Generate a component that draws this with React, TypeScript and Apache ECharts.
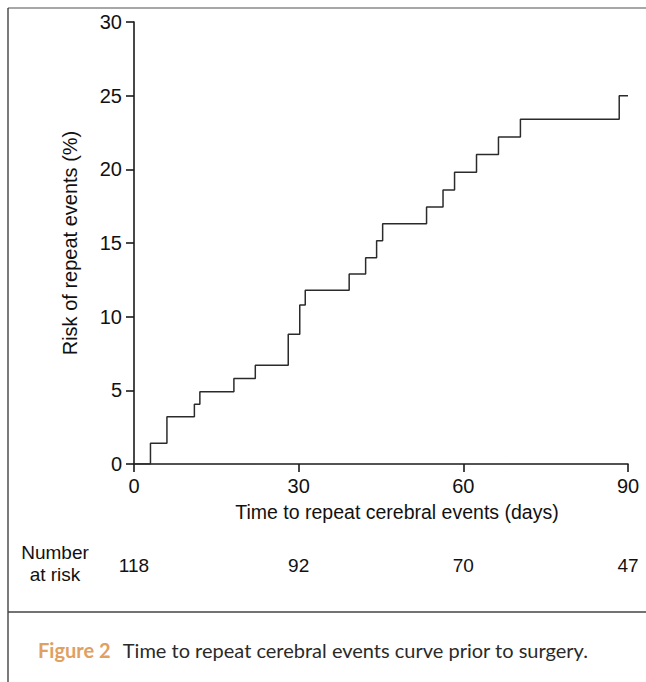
import React, { useEffect, useRef } from "react";
import * as echarts from "echarts";

const stepDays = [0, 3, 6, 11, 12, 18.2, 22.1, 28.1, 30.2, 31.2, 39.2, 42.2, 44.2, 45.3, 53.3, 56.3, 58.4, 62.4, 66.4, 70.4, 88.4, 90];
const stepRisk = [0, 1.4, 3.2, 4.05, 4.9, 5.8, 6.7, 8.8, 10.8, 11.8, 12.9, 14.0, 15.15, 16.3, 17.45, 18.6, 19.8, 21.0, 22.2, 23.4, 25.0, 25.0];
const riskTicks = [0, 30, 60, 90];
const numberAtRisk = [118, 92, 70, 47];

const xName = "Time to repeat cerebral events (days)";
const yName = "Risk of repeat events (%)";
const captionLabel = "Figure 2";
const captionText = "Time to repeat cerebral events curve prior to surgery.";

const FONT = "'Liberation Sans', Arial, sans-serif";

export default function App() {
  const ref = useRef<HTMLDivElement>(null);
  useEffect(() => {
    if (!ref.current) return;
    const chart = echarts.init(ref.current, null, { renderer: "svg" });
    const data = stepDays.map((d, i) => [d, stepRisk[i]]);
    const axisColor = "#1a1a1a";
    chart.setOption({
      animation: false,
      backgroundColor: "#ffffff",
      grid: { left: 134, right: 18, top: 22, bottom: 218, containLabel: false },
      xAxis: [
        {
          type: "value",
          min: 0,
          max: 90,
          interval: 30,
          name: xName,
          nameLocation: "middle",
          nameGap: 38,
          nameTextStyle: { fontFamily: FONT, fontSize: 19.5, color: "#111", padding: [0, 0, 0, 32] },
          axisLine: { show: true, lineStyle: { color: axisColor, width: 1.6 } },
          axisTick: { show: true, length: 8, lineStyle: { color: axisColor, width: 1.6 } },
          axisLabel: { fontFamily: FONT, fontSize: 20, color: "#111", margin: 12 },
          splitLine: { show: false },
        },
        {
          type: "value",
          min: 0,
          max: 90,
          interval: 30,
          position: "bottom",
          offset: 84,
          axisLine: { show: false },
          axisTick: { show: false },
          splitLine: { show: false },
          axisLabel: {
            fontFamily: FONT,
            fontSize: 19,
            color: "#111",
            margin: 8,
            formatter: (v: number) => {
              const i = riskTicks.indexOf(v);
              return i >= 0 ? String(numberAtRisk[i]) : "";
            },
          },
        },
      ],
      yAxis: {
        type: "value",
        min: 0,
        max: 30,
        interval: 5,
        name: yName,
        nameLocation: "middle",
        nameGap: 54,
        nameTextStyle: { fontFamily: FONT, fontSize: 20, color: "#111" },
        axisLine: { show: true, lineStyle: { color: axisColor, width: 1.6 } },
        axisTick: { show: true, length: 8, lineStyle: { color: axisColor, width: 1.6 } },
        axisLabel: { fontFamily: FONT, fontSize: 20, color: "#111", margin: 12 },
        splitLine: { show: false },
      },
      series: [
        {
          type: "line",
          step: "end",
          data,
          showSymbol: false,
          symbol: "none",
          lineStyle: { color: "#2b2b2b", width: 1.5 },
          xAxisIndex: 0,
          yAxisIndex: 0,
        },
      ],
      graphic: [
        { type: "line", shape: { x1: 8, y1: 8, x2: 646, y2: 8 }, style: { stroke: "#8a8a8a", lineWidth: 1.3 } },
        { type: "line", shape: { x1: 8, y1: 8, x2: 8, y2: 682 }, style: { stroke: "#333", lineWidth: 1.3 } },
        { type: "line", shape: { x1: 8, y1: 612, x2: 646, y2: 612 }, style: { stroke: "#444", lineWidth: 1.3 } },
        {
          type: "text",
          x: 55,
          y: 563,
          style: {
            text: "Number\nat risk",
            fontFamily: FONT,
            fontSize: 19,
            lineHeight: 22,
            fill: "#111",
            align: "center",
            verticalAlign: "middle",
          },
        },
        {
          type: "text",
          x: 38,
          y: 650,
          style: {
            text: "{a|" + captionLabel + "} {b|" + captionText + "}",
            verticalAlign: "middle",
            rich: {
              a: { fontFamily: "Lato, sans-serif", fontSize: 20, fontWeight: "bold", fill: "#E0A060", color: "#E0A060", padding: [0, 9, 0, 0] },
              b: { fontFamily: "Lato, sans-serif", fontSize: 20, fill: "#2a2a2a", color: "#2a2a2a" },
            },
          },
        },
      ],
    });
    return () => chart.dispose();
  }, []);
  return <div ref={ref} style={{ position: "fixed", left: 0, top: 0, width: 646, height: 682 }} />;
}
